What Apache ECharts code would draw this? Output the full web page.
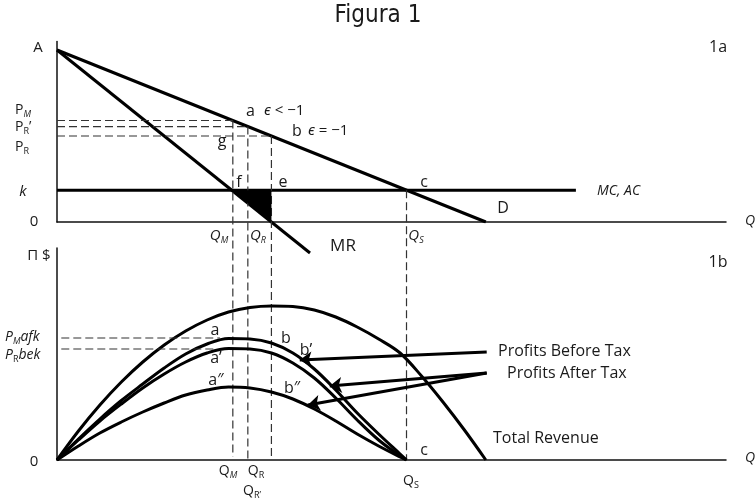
<!DOCTYPE html>
<html><head><meta charset="utf-8">
<script src="https://cdn.jsdelivr.net/npm/echarts@6/dist/echarts.min.js"></script>
<style>html,body{margin:0;padding:0;background:#fff}#c{width:755px;height:502px}</style>
</head><body><div id="c"></div>
<script>
// ---------- Panel 1a (price vs quantity) ----------
const demandQ = [0, 100];
const demandP = [100, 0];
const mrQ = [0, 59];
const mrP = [100, -18];
const costK = 18.5;
const costQEnd = 121;
const qM = 41, qRp = 44.5, qR = 50, qS = 81.5;
const pM = 59, pRp = 55.5, pR = 50;
const shadeQ = [40.75, 50, 50];
const shadeP = [18.5, 18.5, 0];
const dropTo = -138;   // vertical guides continue down to the lower axis

// ---------- Panel 1b (profit vs quantity) ----------
const trQ  = [0, 5, 10, 15, 20, 25, 30, 35, 40, 45, 50, 55, 60, 65, 70, 75, 80, 85, 90, 95, 100];
const trPi = [0, 29, 55, 78, 98, 115, 129, 140, 148, 152.5, 154, 153.5, 150, 143, 133, 121, 107, 84, 58, 30, 0];
const profQ = [0, 5, 10, 15, 20, 25, 30, 35, 40, 45, 50, 55, 60, 65, 70, 75, 80, 81.5];
const beforePi = [0, 21, 41, 59.5, 76, 92, 106, 116, 121.5, 121, 117, 107, 91, 70, 47, 26, 6, 0];
const afterPi  = [0, 20, 39, 56, 72, 86, 98, 107, 111.5, 111, 107, 97, 82, 62, 40, 20, 4, 0];
const after2Pi = [0, 14, 27, 38, 48, 57, 65, 70, 73, 72, 68, 61, 51, 39, 26, 14, 3, 0];
const piMafk = 122, piRbek = 111;
const arrowBefore = [[100.2, 108], [56.6, 100]];
const arrowAfter1 = [[100.2, 87], [63.6, 74]];
const arrowAfter2 = [[100.2, 87], [58.5, 55]];

const zip = (a, b) => a.map((v, i) => [v, b[i]]);
const chart = echarts.init(document.getElementById('c'), null, {renderer: 'canvas'});

const BLK = '#000';
const DASH = {color: '#333', width: 1.2, type: [8, 4]};
function line(data, g, style, extra) {
  return Object.assign({
    type: 'line', xAxisIndex: g, yAxisIndex: g, data: data, showSymbol: false, symbol: 'none',
    lineStyle: style, silent: true, animation: false, z: 3
  }, extra || {});
}

const series = [
  line(zip(demandQ, demandP), 0, {color: BLK, width: 3}),
  line(zip(mrQ, mrP), 0, {color: BLK, width: 3}, {clip: false}),
  line([[0, costK], [costQEnd, costK]], 0, {color: BLK, width: 3}),
  line([[0, pM], [qM, pM]], 0, DASH),
  line([[0, pRp], [qRp, pRp]], 0, DASH),
  line([[0, pR], [qR, pR]], 0, DASH),
  line([[qM, pM], [qM, dropTo + 1.5]], 0, DASH, {clip: false}),
  line([[qRp, pRp], [qRp, dropTo]], 0, DASH, {clip: false}),
  line([[qR, pR], [qR, dropTo]], 0, DASH, {clip: false}),
  line([[qS, costK], [qS, dropTo]], 0, DASH, {clip: false}),
  {
    type: 'custom', xAxisIndex: 0, yAxisIndex: 0, silent: true, animation: false, z: 4,
    data: [0],
    renderItem: function (params, api) {
      const pts = shadeQ.map((q, i) => api.coord([q, shadeP[i]]));
      return {type: 'polygon', shape: {points: pts}, style: {fill: BLK}};
    }
  },
  line(zip(trQ, trPi), 1, {color: BLK, width: 3}, {smooth: 0.35}),
  line(zip(profQ, beforePi), 1, {color: BLK, width: 3}, {smooth: 0.35}),
  line(zip(profQ, afterPi), 1, {color: BLK, width: 3}, {smooth: 0.35}),
  line(zip(profQ, after2Pi), 1, {color: BLK, width: 3}, {smooth: 0.35}),
  line([[1, piMafk], [38, piMafk]], 1, DASH),
  line([[1, piRbek], [37, piRbek]], 1, DASH),
  {
    type: 'lines', coordinateSystem: 'cartesian2d', xAxisIndex: 1, yAxisIndex: 1,
    silent: true, animation: false, z: 5,
    symbol: ['none', 'arrow'], symbolSize: 12,
    lineStyle: {color: BLK, width: 3, opacity: 1, curveness: 0},
    data: [{coords: arrowBefore}, {coords: arrowAfter1}, {coords: arrowAfter2}]
  }
];

// --------- text labels ---------
const FONT = '"Open Sans", "Noto Sans", sans-serif';
const mctx = document.createElement('canvas').getContext('2d');
function fontStr(p) { return (p.it ? 'italic ' : '') + (p.size || 15) + 'px ' + FONT; }
function label(x, y, parts, align) {
  if (typeof parts === 'string') parts = [{t: parts}];
  let widths = parts.map(p => { mctx.font = fontStr(p); return mctx.measureText(p.t).width; });
  const total = widths.reduce((a, b) => a + b, 0);
  let cx = align === 'center' ? x - total / 2 : x;
  const els = [];
  parts.forEach((p, i) => {
    els.push({
      type: 'text', x: cx, y: y + (p.dy || 0), silent: true, z: 10,
      style: {text: p.t, font: fontStr(p), fill: '#1a1a1a', textAlign: 'left', textVerticalAlign: 'middle', align: 'left', verticalAlign: 'middle'}
    });
    cx += widths[i] + (p.gap || 0);
  });
  return els;
}
const S = (t, it) => ({t: t, size: 9, it: it !== false, dy: 4});
const graphics = [].concat(
  [{type: 'text', x: 378, y: 16, silent: true, style: {text: 'Figura 1', font: '24px "Liberation Sans Narrow", "DejaVu Sans Condensed", sans-serif', fill: '#1a1a1a', textAlign: 'center', textVerticalAlign: 'middle', align: 'center', verticalAlign: 'middle'}}],
  label(38, 48, 'A', 'center'),
  label(15, 110, [{t: 'P', size: 14}, S('M')]),
  label(15, 127, [{t: 'P', size: 14}, S('R', false), {t: '’', size: 14}]),
  label(15, 147, [{t: 'P', size: 14}, S('R', false)]),
  label(23, 192, [{t: 'k', it: true}], 'center'),
  label(34, 222, '0', 'center'),
  label(745, 221, [{t: 'Q', it: true, size: 14}]),
  label(718, 47, [{t: '1a', size: 16}], 'center'),
  label(597, 191, [{t: 'MC, AC', it: true, size: 14}]),
  label(503, 208, [{t: 'D', size: 16}], 'center'),
  label(424, 182, [{t: 'c', size: 16}], 'center'),
  label(283, 182, [{t: 'e', size: 16}], 'center'),
  label(239, 182, [{t: 'f', size: 16}], 'center'),
  label(222, 141, [{t: 'g', size: 16}], 'center'),
  label(246, 111, [{t: 'a', size: 16}]),
  label(264, 111, [{t: 'ϵ', size: 15, it: true}, {t: ' < −1', size: 15}]),
  label(292, 131, [{t: 'b', size: 16}]),
  label(308, 131, [{t: 'ϵ', size: 15, it: true}, {t: ' = −1', size: 15}]),
  label(219, 236, [{t: 'Q', size: 15, it: true}, S('M')], 'center'),
  label(258, 236, [{t: 'Q', size: 15, it: true}, S('R')], 'center'),
  label(416, 236, [{t: 'Q', size: 15, it: true}, S('S')], 'center'),
  label(343, 246, [{t: 'MR', size: 17}], 'center'),
  label(39, 256, [{t: 'Π $', size: 15}], 'center'),
  label(718, 262, [{t: '1b', size: 16}], 'center'),
  label(34, 462, '0', 'center'),
  label(745, 458, [{t: 'Q', it: true, size: 14}]),
  label(5, 337, [{t: 'P', size: 14, it: true}, S('M'), {t: 'afk', size: 14, it: true}]),
  label(5, 355, [{t: 'P', size: 14, it: true}, S('R', false), {t: 'bek', size: 14, it: true}]),
  label(215, 330, [{t: 'a', size: 16}], 'center'),
  label(216, 358, [{t: 'a’', size: 16}], 'center'),
  label(216, 380, [{t: 'a″', size: 16}], 'center'),
  label(286, 338, [{t: 'b', size: 16}], 'center'),
  label(306, 350, [{t: 'b’', size: 16}], 'center'),
  label(292, 388, [{t: 'b″', size: 16}], 'center'),
  label(424, 450, [{t: 'c', size: 16}], 'center'),
  label(228, 471, [{t: 'Q', size: 14}, S('M')], 'center'),
  label(256, 471, [{t: 'Q', size: 14}, S('R', false)], 'center'),
  label(252, 491, [{t: 'Q', size: 14}, S('R’', false)], 'center'),
  label(411, 481, [{t: 'Q', size: 14}, S('S', false)], 'center'),
  label(498, 351, [{t: 'Profits Before Tax', size: 16}]),
  label(507, 373, [{t: 'Profits After Tax', size: 16}]),
  label(493, 438, [{t: 'Total Revenue', size: 16}])
);

const axisCommon = {
  type: 'value', axisTick: {show: false}, axisLabel: {show: false}, splitLine: {show: false},
  axisLine: {show: true, onZero: false, lineStyle: {color: '#111', width: 1.5}}
};
chart.setOption({
  animation: false,
  backgroundColor: '#fff',
  grid: [
    {left: 57, top: 41.4, width: 669, height: 180.6},
    {left: 57, top: 248, width: 669, height: 212}
  ],
  xAxis: [
    Object.assign({gridIndex: 0, min: 0, max: 156}, axisCommon),
    Object.assign({gridIndex: 1, min: 0, max: 156}, axisCommon)
  ],
  yAxis: [
    Object.assign({gridIndex: 0, min: 0, max: 105}, axisCommon),
    Object.assign({gridIndex: 1, min: 0, max: 212}, axisCommon)
  ],
  series: series,
  graphic: graphics
});
</script></body></html>
